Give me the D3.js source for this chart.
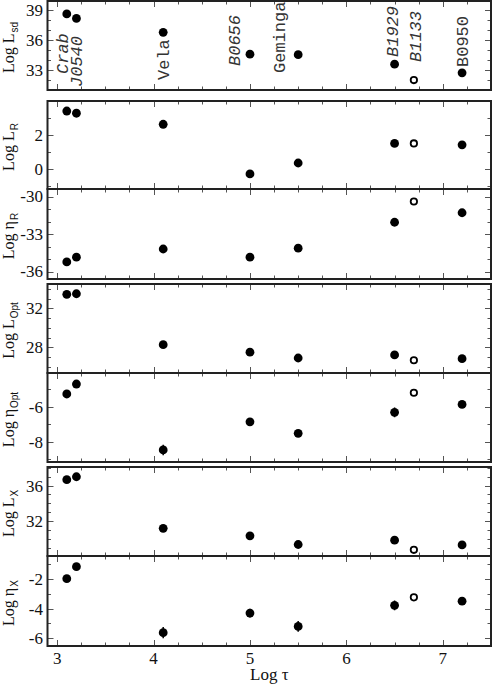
<!DOCTYPE html>
<html><head><meta charset="utf-8">
<script src="https://cdn.jsdelivr.net/npm/d3@7"></script>
<style>
html,body{margin:0;padding:0;background:#fff;}
svg{display:block;}
</style></head>
<body>
<script>
// ---- data ----
const pulsars   = ["Crab","J0540","Vela","B0656","Geminga","B1929","B1133","B0950"];
const logTau    = [3.1, 3.2, 4.1, 5.0, 5.5, 6.5, 6.7, 7.2];
const isOpen    = [false,false,false,false,false,false,true,false];
const logLsd    = [38.65, 38.2, 36.8, 34.6, 34.55, 33.6, 32.0, 32.73];
const logLR     = [3.41, 3.28, 2.63, -0.29, 0.35, 1.5, 1.5, 1.42];
const logEtaR   = [-35.23, -34.85, -34.2, -34.85, -34.13, -32.06, -30.4, -31.3];
const logLOpt   = [33.44, 33.5, 28.27, 27.5, 26.9, 27.22, 26.67, 26.83];
const logEtaOpt = [-5.27, -4.7, -8.47, -6.86, -7.52, -6.32, -5.2, -5.87];
const errEtaOpt = [0, 0, 0.3, 0, 0, 0.28, 0, 0];
const logLX     = [36.67, 37.0, 31.18, 30.33, 29.35, 29.84, 28.75, 29.3];
const logEtaX   = [-1.98, -1.17, -5.62, -4.3, -5.2, -3.78, -3.24, -3.5];
const errEtaX   = [0, 0, 0.38, 0.3, 0.36, 0.33, 0, 0];
const xTicks    = [3, 4, 5, 6, 7];
const xTitle    = "Log τ";

// ---- layout ----
const W = 493, H = 686;
const left = 47.5, right = 491;
const panels = [
  {sym:"L", sub:"sd",  vals:logLsd,    err:null,      top:1,   bot:90,  dom:[31, 39.95],    major:[33,36,39],   minorStep:1},
  {sym:"L", sub:"R",   vals:logLR,     err:null,      top:101, bot:189, dom:[-1.18, 4.0],   major:[0,2],        minorStep:1},
  {sym:"η", sub:"R",   vals:logEtaR,   err:null,      top:189, bot:279, dom:[-36.6, -29.4], major:[-36,-33,-30],minorStep:1},
  {sym:"L", sub:"Opt", vals:logLOpt,   err:null,      top:284, bot:373, dom:[25.36, 34.5],  major:[28,32],      minorStep:1},
  {sym:"η", sub:"Opt", vals:logEtaOpt, err:errEtaOpt, top:373, bot:462, dom:[-9.16, -4.07], major:[-8,-6],      minorStep:1},
  {sym:"L", sub:"X",   vals:logLX,     err:null,      top:467, bot:556, dom:[28.05, 38.1],  major:[32,36],      minorStep:1},
  {sym:"η", sub:"X",   vals:logEtaX,   err:errEtaX,   top:556, bot:646, dom:[-6.52, -0.45], major:[-6,-4,-2],   minorStep:1}
];
// label layout: x offset from point (px), bottom y (px), italic
const labelLayout = [
  {dx:1.5, y:74, it:true}, {dx:5.5, y:87, it:true}, {dx:5.5, y:80, it:false},
  {dx:-10, y:66, it:true}, {dx:-13.5, y:73, it:false}, {dx:3.5, y:57, it:true},
  {dx:7.5, y:62, it:true}, {dx:6, y:67, it:false}
];

const svg = d3.select("body").append("svg").attr("width", W).attr("height", H);
const x = d3.scaleLinear().domain([2.9, 7.5]).range([left, right]);
const serif = "'Liberation Serif','DejaVu Serif',serif";
const sans = "'Liberation Sans','DejaVu Sans',sans-serif";
const ink = "#222";

const xMinor = d3.range(3, 7.5001, 0.25);

panels.forEach((p, pi) => {
  const y = d3.scaleLinear().domain(p.dom).range([p.bot, p.top]);
  const g = svg.append("g");

  // x ticks top & bottom (inward)
  xMinor.forEach(t => {
    const major = Math.abs(t - Math.round(t)) < 1e-6;
    const len = major ? 6 : 3.5;
    const xx = Math.round(x(t)) + 0.5;
    g.append("line").attr("x1", xx).attr("x2", xx).attr("y1", p.bot).attr("y2", p.bot - len)
      .attr("stroke", "#555").attr("stroke-width", 1);
    g.append("line").attr("x1", xx).attr("x2", xx).attr("y1", p.top).attr("y2", p.top + len)
      .attr("stroke", "#555").attr("stroke-width", 1);
  });

  // y ticks left & right (inward)
  const lo = Math.ceil(p.dom[0]), hi = Math.floor(p.dom[1]);
  d3.range(lo, hi + 1, p.minorStep).forEach(t => {
    const major = p.major.includes(t);
    const len = major ? 6 : 3.5;
    const yy = Math.round(y(t)) + 0.5;
    g.append("line").attr("x1", left).attr("x2", left + len).attr("y1", yy).attr("y2", yy)
      .attr("stroke", "#555").attr("stroke-width", 1);
    g.append("line").attr("x1", right).attr("x2", right - len).attr("y1", yy).attr("y2", yy)
      .attr("stroke", "#555").attr("stroke-width", 1);
  });

  // y tick labels
  p.major.forEach(t => {
    g.append("text").attr("x", 43).attr("y", y(t)).attr("dy", "0.35em")
      .attr("text-anchor", "end").attr("font-family", serif).attr("font-size", 17)
      .attr("fill", "#111").text(String(t).replace("\u2212", "-"));
  });

  // frame
  g.append("rect").attr("x", left).attr("y", p.top).attr("width", right - left).attr("height", p.bot - p.top)
    .attr("fill", "none").attr("stroke", ink).attr("stroke-width", 2);

  // y axis label
  const cy = (p.top + p.bot) / 2 + 2;
  const lab = g.append("text").attr("transform", `translate(14,${cy}) rotate(-90)`)
    .attr("text-anchor", "middle").attr("font-family", serif).attr("font-size", 16).attr("fill", "#111");
  lab.append("tspan").text("Log " + p.sym);
  lab.append("tspan").attr("font-family", sans).attr("font-size", 10).attr("dy", 4).attr("dx", 1).text(p.sub);

  // error bars
  if (p.err) {
    p.vals.forEach((v, i) => {
      if (!p.err[i]) return;
      g.append("line").attr("x1", x(logTau[i])).attr("x2", x(logTau[i]))
        .attr("y1", y(v - p.err[i])).attr("y2", y(v + p.err[i]))
        .attr("stroke", "#000").attr("stroke-width", 1.5);
    });
  }

  // points
  p.vals.forEach((v, i) => {
    if (isOpen[i]) {
      g.append("circle").attr("cx", x(logTau[i])).attr("cy", y(v)).attr("r", 3.2)
        .attr("fill", "#fff").attr("stroke", "#000").attr("stroke-width", 1.8);
    } else {
      g.append("circle").attr("cx", x(logTau[i])).attr("cy", y(v)).attr("r", 4.4).attr("fill", "#000");
    }
  });

  // pulsar name labels (top panel)
  if (pi === 0) {
    pulsars.forEach((name, i) => {
      const L = labelLayout[i];
      g.append("text").attr("transform", `translate(${x(logTau[i]) + L.dx},${L.y}) rotate(-90)`)
        .attr("font-family", "'Liberation Mono','DejaVu Sans Mono',monospace")
        .attr("font-size", 17).attr("font-style", L.it ? "italic" : "normal")
        .attr("fill", "#333").text(name);
    });
  }
});

// bottom x tick labels
const lastBot = panels[panels.length - 1].bot;
xTicks.forEach(t => {
  svg.append("text").attr("x", x(t)).attr("y", lastBot + 18).attr("text-anchor", "middle")
    .attr("font-family", serif).attr("font-size", 17).attr("fill", "#111").text(t);
});
svg.append("text").attr("x", (left + right) / 2).attr("y", lastBot + 34).attr("text-anchor", "middle")
  .attr("font-family", serif).attr("font-size", 17).attr("fill", "#111").text(xTitle);
</script>
</body></html>
